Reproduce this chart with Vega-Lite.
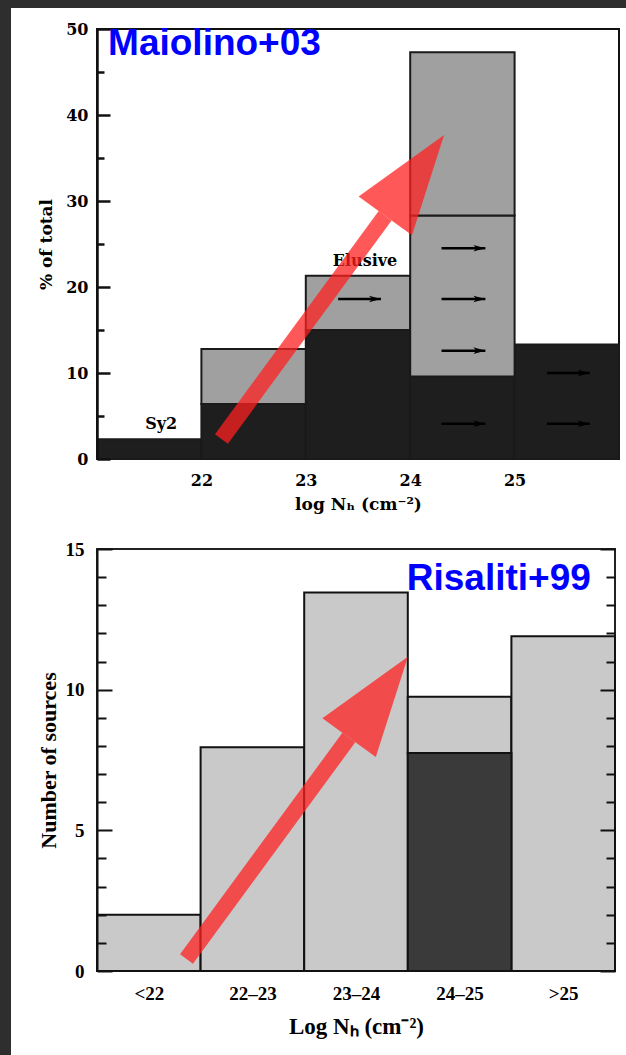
{
  "$schema": "https://vega.github.io/schema/vega-lite/v6.json",
  "padding": 0,
  "background": "white",
  "bounds": "flush",
  "spacing": 0,
  "config": {
    "view": {"stroke": null},
    "axis": {"grid": false, "labelColor": "#000", "titleColor": "#000", "domainColor": "#111", "tickColor": "#111"}
  },
  "datasets": {
    "maiolino_bars": [
      {"lo": 21, "hi": 22, "y0": 0, "y1": 2.3, "series": "Sy2"},
      {"lo": 22, "hi": 23, "y0": 0, "y1": 6.4, "series": "Sy2"},
      {"lo": 23, "hi": 24, "y0": 0, "y1": 15.0, "series": "Sy2"},
      {"lo": 24, "hi": 25, "y0": 0, "y1": 9.6, "series": "Sy2"},
      {"lo": 25, "hi": 26, "y0": 0, "y1": 13.3, "series": "Sy2"},
      {"lo": 22, "hi": 23, "y0": 6.4, "y1": 12.8, "series": "Elusive"},
      {"lo": 23, "hi": 24, "y0": 15.0, "y1": 21.3, "series": "Elusive"},
      {"lo": 24, "hi": 25, "y0": 9.6, "y1": 28.3, "series": "Elusive"},
      {"lo": 24, "hi": 25, "y0": 28.3, "y1": 47.3, "series": "Elusive"}
    ],
    "maiolino_arrows": [
      {"x": 23.31, "x2": 23.72, "y": 18.6},
      {"x": 24.30, "x2": 24.72, "y": 24.5},
      {"x": 24.30, "x2": 24.72, "y": 18.6},
      {"x": 24.30, "x2": 24.72, "y": 12.6},
      {"x": 24.30, "x2": 24.72, "y": 4.1},
      {"x": 25.31, "x2": 25.72, "y": 10.0},
      {"x": 25.31, "x2": 25.72, "y": 4.1}
    ],
    "maiolino_labels": [
      {"x": 21.615, "y": 4.07, "text": "Sy2"},
      {"x": 23.567, "y": 23.0, "text": "Elusive"}
    ],
    "maiolino_tag": [{"x": 21.106, "y": 46.98, "text": "Maiolino+03"}],
    "maiolino_trend": [{"x": 22.192, "y": 2.33, "x2": 23.76, "y2": 28.28}],
    "maiolino_trend_head": [{"x": 24.043, "y": 32.98}],
    "risaliti_bars": [
      {"lo": 0, "hi": 1, "y0": 0, "y1": 2.0, "kind": "all"},
      {"lo": 1, "hi": 2, "y0": 0, "y1": 7.95, "kind": "all"},
      {"lo": 2, "hi": 3, "y0": 0, "y1": 13.45, "kind": "all"},
      {"lo": 3, "hi": 4, "y0": 7.75, "y1": 9.75, "kind": "all"},
      {"lo": 4, "hi": 5, "y0": 0, "y1": 11.9, "kind": "all"}
    ],
    "risaliti_hatched": [
      {"lo": 3, "hi": 4, "y0": 0, "y1": 7.75, "kind": "hatched"}
    ],
    "risaliti_tag": [{"x": 2.99, "y": 13.54, "text": "Risaliti+99"}],
    "risaliti_trend": [{"x": 0.864, "y": 0.43, "x2": 2.431, "y2": 8.30}],
    "risaliti_trend_head": [{"x": 2.717, "y": 9.73}]
  },
  "hconcat": [
    {"width": 11, "height": 1055, "view": {"fill": "#2e2e2e", "stroke": null}, "data": {"values": []}, "mark": "rect"},
    {
      "bounds": "flush",
      "spacing": 21,
      "vconcat": [
        {"width": 615, "height": 8, "view": {"fill": "#2e2e2e", "stroke": null}, "data": {"values": []}, "mark": "rect"},
        {
          "bounds": "flush",
          "spacing": 85,
          "hconcat": [
            {"width": 1, "height": 1, "data": {"values": []}, "mark": "rect"},
            {
              "bounds": "flush",
              "spacing": 90,
              "vconcat": [
                {
                  "width": 522,
                  "height": 430,
                  "view": {"stroke": "#111", "strokeWidth": 2},
                  "layer": [
                    {
                      "data": {"name": "maiolino_bars"},
                      "mark": {"type": "rect", "stroke": "#1a1a1a", "strokeWidth": 2},
                      "encoding": {
                        "x": {"field": "lo", "type": "quantitative",
                          "scale": {"domain": [21, 26], "nice": false, "zero": false},
                          "axis": {"values": [22, 23, 24, 25], "format": "d", "ticks": false, "domain": false, "labelPadding": 13,
                            "labelFont": "DejaVu Serif", "labelFontWeight": "bold", "labelFontSize": 16,
                            "title": "log N\u2095 (cm\u207b\u00b2)", "titleFont": "DejaVu Serif", "titleFontWeight": "bold", "titleFontSize": 17, "titlePadding": 8}},
                        "x2": {"field": "hi"},
                        "y": {"field": "y0", "type": "quantitative",
                          "scale": {"domain": [0, 50], "nice": false},
                          "axis": {"values": [0, 5, 10, 15, 20, 25, 30, 35, 40, 45, 50], "zindex": 1,
                            "labelExpr": "datum.value % 10 === 0 ? datum.label : ''",
                            "tickSize": {"condition": {"test": "datum.value % 10 === 0", "value": -13}, "value": -7},
                            "tickWidth": 2.5, "domainWidth": 2.5, "labelPadding": 22,
                            "labelFont": "DejaVu Serif", "labelFontWeight": "bold", "labelFontSize": 16,
                            "title": "% of total", "titleFont": "DejaVu Serif", "titleFontWeight": "bold", "titleFontSize": 17, "titlePadding": 10}},
                        "y2": {"field": "y1"},
                        "color": {"field": "series", "type": "nominal",
                          "scale": {"domain": ["Sy2", "Elusive"], "range": ["#1e1e1e", "#a0a0a0"]}, "legend": null}
                      }
                    },
                    {
                      "data": {"name": "maiolino_arrows"},
                      "mark": {"type": "rule", "strokeWidth": 2.5, "color": "#000"},
                      "encoding": {
                        "x": {"field": "x", "type": "quantitative"},
                        "x2": {"field": "x2"},
                        "y": {"field": "y", "type": "quantitative"}
                      }
                    },
                    {
                      "data": {"name": "maiolino_arrows"},
                      "mark": {"type": "point", "shape": "M-2,-0.55L0,0L-2,0.55L-1.5,0Z", "size": 144, "filled": true, "color": "#000", "opacity": 1},
                      "encoding": {
                        "x": {"field": "x2", "type": "quantitative"},
                        "y": {"field": "y", "type": "quantitative"}
                      }
                    },
                    {
                      "data": {"name": "maiolino_labels"},
                      "mark": {"type": "text", "font": "DejaVu Serif", "fontWeight": "bold", "fontSize": 16, "color": "#000", "baseline": "middle", "align": "center"},
                      "encoding": {
                        "x": {"field": "x", "type": "quantitative"},
                        "y": {"field": "y", "type": "quantitative"},
                        "text": {"field": "text"}
                      }
                    },
                    {
                      "data": {"name": "maiolino_trend"},
                      "mark": {"type": "rule", "strokeWidth": 16, "color": "#ff2020", "opacity": 0.75, "strokeCap": "butt"},
                      "encoding": {
                        "x": {"field": "x", "type": "quantitative"},
                        "y": {"field": "y", "type": "quantitative"},
                        "x2": {"field": "x2"},
                        "y2": {"field": "y2"}
                      }
                    },
                    {
                      "data": {"name": "maiolino_trend_head"},
                      "mark": {"type": "point", "shape": "M0,-1L0.66,1L-0.66,1Z", "size": 10000, "angle": 36, "filled": true, "color": "#ff2020", "opacity": 0.75, "strokeWidth": 0},
                      "encoding": {
                        "x": {"field": "x", "type": "quantitative"},
                        "y": {"field": "y", "type": "quantitative"}
                      }
                    },
                    {
                      "data": {"name": "maiolino_tag"},
                      "mark": {"type": "text", "font": "Liberation Sans", "fontWeight": "bold", "fontSize": 37, "color": "#0000ff", "align": "left", "baseline": "alphabetic"},
                      "encoding": {
                        "x": {"field": "x", "type": "quantitative"},
                        "y": {"field": "y", "type": "quantitative"},
                        "text": {"field": "text"}
                      }
                    }
                  ]
                },
                {
                  "width": 518,
                  "height": 422,
                  "view": {"stroke": "#222", "strokeWidth": 2},
                  "resolve": {"axis": {"y": "independent"}},
                  "layer": [
                    {
                      "data": {"name": "risaliti_bars"},
                      "mark": {"type": "rect", "stroke": "#111", "strokeWidth": 2, "color": "#c9c9c9"},
                      "encoding": {
                        "x": {"field": "lo", "type": "quantitative",
                          "scale": {"domain": [0, 5], "nice": false, "zero": false},
                          "axis": {"values": [0.5, 1.5, 2.5, 3.5, 4.5], "ticks": false, "domain": false,
                            "labelExpr": "['<22', '22\u201323', '23\u201324', '24\u201325', '>25'][floor(datum.value)]",
                            "labelPadding": 13, "labelFont": "Liberation Serif", "labelFontWeight": "bold", "labelFontSize": 19,
                            "title": "Log N\u2095 (cm\u207b\u00b2)", "titleFont": "Liberation Serif", "titleFontWeight": "bold", "titleFontSize": 23, "titlePadding": 12}},
                        "x2": {"field": "hi"},
                        "y": {"field": "y0", "type": "quantitative",
                          "scale": {"domain": [0, 15], "nice": false},
                          "axis": {"orient": "left", "zindex": 1, "values": [0, 1, 2, 3, 4, 5, 6, 7, 8, 9, 10, 11, 12, 13, 14, 15],
                            "labelExpr": "datum.value % 5 === 0 ? datum.label : ''",
                            "tickSize": {"condition": {"test": "datum.value % 5 === 0", "value": -15}, "value": -9},
                            "tickWidth": 2, "domainWidth": 2, "labelPadding": 28,
                            "labelFont": "Liberation Serif", "labelFontWeight": "bold", "labelFontSize": 19,
                            "title": "Number of sources", "titleFont": "Liberation Serif", "titleFontWeight": "bold", "titleFontSize": 22, "titlePadding": 5}},
                        "y2": {"field": "y1"}
                      }
                    },
                    {
                      "data": {"name": "risaliti_hatched"},
                      "mark": {"type": "rect", "stroke": "#111", "strokeWidth": 2, "color": "#3a3a3a"},
                      "encoding": {
                        "x": {"field": "lo", "type": "quantitative"},
                        "x2": {"field": "hi"},
                        "y": {"field": "y0", "type": "quantitative",
                          "axis": {"orient": "right", "zindex": 1, "values": [0, 1, 2, 3, 4, 5, 6, 7, 8, 9, 10, 11, 12, 13, 14, 15],
                            "labels": false, "title": null, "domain": false,
                            "tickSize": {"condition": {"test": "datum.value % 5 === 0", "value": -15}, "value": -9},
                            "tickWidth": 2}},
                        "y2": {"field": "y1"}
                      }
                    },
                    {
                      "data": {"name": "risaliti_trend"},
                      "mark": {"type": "rule", "strokeWidth": 16, "color": "#ff2020", "opacity": 0.75, "strokeCap": "butt"},
                      "encoding": {
                        "x": {"field": "x", "type": "quantitative"},
                        "y": {"field": "y", "type": "quantitative", "axis": null},
                        "x2": {"field": "x2"},
                        "y2": {"field": "y2"}
                      }
                    },
                    {
                      "data": {"name": "risaliti_trend_head"},
                      "mark": {"type": "point", "shape": "M0,-1L0.66,1L-0.66,1Z", "size": 10000, "angle": 36, "filled": true, "color": "#ff2020", "opacity": 0.75, "strokeWidth": 0},
                      "encoding": {
                        "x": {"field": "x", "type": "quantitative"},
                        "y": {"field": "y", "type": "quantitative", "axis": null}
                      }
                    },
                    {
                      "data": {"name": "risaliti_tag"},
                      "mark": {"type": "text", "font": "Liberation Sans", "fontWeight": "bold", "fontSize": 37, "color": "#0000ff", "align": "left", "baseline": "alphabetic"},
                      "encoding": {
                        "x": {"field": "x", "type": "quantitative"},
                        "y": {"field": "y", "type": "quantitative", "axis": null},
                        "text": {"field": "text"}
                      }
                    }
                  ]
                }
              ]
            }
          ]
        }
      ]
    }
  ]
}
